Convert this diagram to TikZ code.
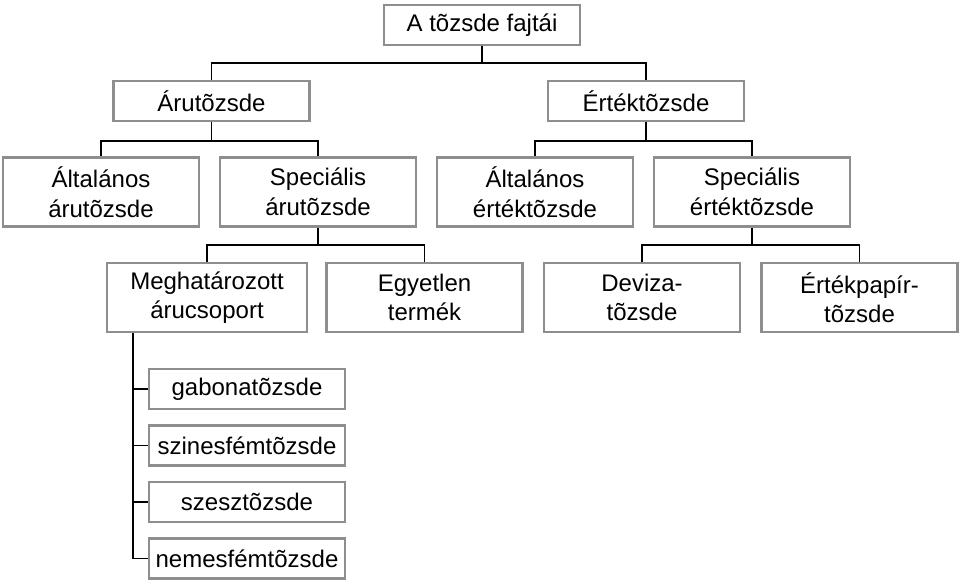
\documentclass[tikz,border=0pt]{standalone}
\usepackage{fontspec}
\setmainfont{Liberation Sans}
\begin{document}
\begin{tikzpicture}[x=1pt,y=-1pt,
  box/.style={draw=boxgray, line width=2.6pt, fill=white, rectangle, inner sep=0pt,
    minimum width=196pt, align=center, font=\fontsize{24}{29.5}\selectfont},
  onebox/.style={box, minimum height=40pt},
  twobox/.style={box, minimum height=69pt},
  conn/.style={draw=black, line width=1.4pt}]
\definecolor{boxgray}{HTML}{8E8E8E}
\useasboundingbox (0,0) rectangle (960,583);
\node[onebox] (top) at (482,25) {A tõzsde fajtái};
\node[onebox] (aru) at (211.5,101) {Árutõzsde};
\node[onebox] (ert) at (646,101) {Értéktõzsde};
\node[twobox] (altaru) at (101,192) {Általános\\árutõzsde};
\node[twobox] (specaru) at (318,192) {Speciális\\árutõzsde};
\node[twobox] (altert) at (535,192) {Általános\\értéktõzsde};
\node[twobox] (specert) at (752,192) {Speciális\\értéktõzsde};
\node[twobox, minimum width=200pt] (meghat) at (207,297.5) {Meghatározott\\árucsoport};
\node[twobox] (egyetlen) at (424.5,297.5) {Egyetlen\\termék};
\node[twobox] (deviza) at (642,297.5) {Deviza-\\tõzsde};
\node[twobox] (ertpap) at (859.5,297.5) {Értékpapír-\\tõzsde};
\node[onebox] (gabona) at (247,389) {gabonatõzsde};
\node[onebox] (szines) at (247,445.5) {szinesfémtõzsde};
\node[onebox] (szesz) at (247,502) {szesztõzsde};
\node[onebox] (nemes) at (247,558.5) {nemesfémtõzsde};
% junctions
\coordinate (j0) at (482,63);
\coordinate (j1) at (211.5,141);
\coordinate (j2) at (646,141);
\coordinate (j3) at (318,245);
\coordinate (j4) at (752,245);
\coordinate (lx) at (133,0);
\draw[conn] (top.south) -- (j0) -| (aru.north);
\draw[conn] (j0) -| (ert.north);
\draw[conn] (aru.south) -- (j1) -| (altaru.north);
\draw[conn] (j1) -| (specaru.north);
\draw[conn] (ert.south) -- (j2) -| (altert.north);
\draw[conn] (j2) -| (specert.north);
\draw[conn] (specaru.south) -- (j3) -| (meghat.north);
\draw[conn] (j3) -| (egyetlen.north);
\draw[conn] (specert.south) -- (j4) -| (deviza.north);
\draw[conn] (j4) -| (ertpap.north);
\draw[conn] (meghat.south -| lx) |- (nemes.west);
\draw[conn] (gabona.west -| lx) -- (gabona.west);
\draw[conn] (szines.west -| lx) -- (szines.west);
\draw[conn] (szesz.west -| lx) -- (szesz.west);
\end{tikzpicture}
\end{document}
